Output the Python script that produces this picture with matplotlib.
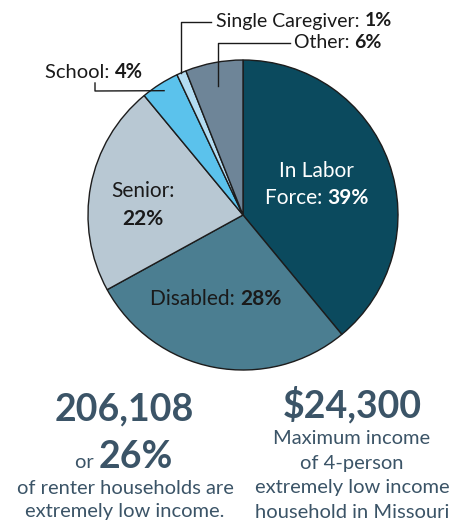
import numpy as np
import matplotlib
matplotlib.use("Agg")
import matplotlib.pyplot as plt
from matplotlib.offsetbox import TextArea, HPacker, AnnotationBbox

plt.rcParams['font.family'] = ['Lato', 'DejaVu Sans']

# shares of extremely low income renter households
groups = ["In Labor Force", "Disabled", "Senior", "School", "Single Caregiver", "Other"]
shares = [39, 28, 22, 4, 1, 6]
colors = ["#0b4a5e", "#4b7e91", "#b8c8d3", "#5bc2ec", "#b3dcf2", "#6e8598"]

renters = "206,108"
renter_pct = "26%"
max_income = "$24,300"

W, H = 468, 524
fig = plt.figure(figsize=(W / 100, H / 100), dpi=100)
ax = fig.add_axes([0, 0, 1, 1])

cx, cy, R = 243, H - 215, 155
wedges, _ = ax.pie(shares, colors=colors, startangle=90, counterclock=False,
                   center=(cx, cy), radius=R,
                   wedgeprops=dict(edgecolor="#1c1c1c", linewidth=1))
ax.set_xlim(0, W)
ax.set_ylim(0, H)
ax.set_aspect('equal')
ax.axis('off')

dark = "#1a1a1a"
slate = "#3b5467"


def mixed(x, y, parts, size, color, align=(0.5, 0.5)):
    # row of text pieces, each with its own weight / size
    boxes = []
    for p in parts:
        t, w = p[0], p[1]
        s = p[2] if len(p) > 2 else size
        boxes.append(TextArea(t, textprops=dict(size=s, color=color, weight=w)))
    row = HPacker(children=boxes, align="baseline", pad=0, sep=0)
    ab = AnnotationBbox(row, (x, H - y), box_alignment=align,
                        frameon=False, pad=0, xycoords='data')
    ax.add_artist(ab)


def label(name, v):
    return [(name + ": ", "normal"), (f"{v}%", "bold")]


# labels inside the big slices
mixed(316, 171, [("In Labor", "normal")], 15, "white")
mixed(317, 198, [("Force: ", "normal"), (f"{shares[0]}%", "bold")], 15, "white")
mixed(143, 191, [(groups[2] + ":", "normal")], 15, dark)
mixed(143, 219, [(f"{shares[2]}%", "bold")], 15, dark)
mixed(216, 299, label(groups[1], shares[1]), 15, dark)


def wedge_point(w, frac):
    a = np.deg2rad((w.theta1 + w.theta2) / 2)
    return cx + R * frac * np.cos(a), cy + R * frac * np.sin(a)


# small slices get leader lines
lw = dict(color=dark, linewidth=1)
sx, sy = wedge_point(wedges[3], 0.95)
ax.plot([95, 95, sx], [H - 83, H - 91, sy], **lw)
mixed(94, 72, label(groups[3], shares[3]), 14.5, dark)

gx, gy = wedge_point(wedges[4], 1.0)
ax.plot([gx, gx, 211], [gy, H - 22, H - 22], **lw)
mixed(216, 21, label(groups[4], shares[4]), 14, dark, align=(0, 0.5))

ox, oy = wedge_point(wedges[5], 0.85)
ax.plot([ox, ox, 290], [oy, H - 43, H - 43], **lw)
mixed(294, 43, label(groups[5], shares[5]), 14, dark, align=(0, 0.5))

# summary figures under the pie
ax.text(124, H - 409, renters, ha='center', va='center', size=27,
        weight='bold', color=slate)
mixed(124, 457, [("or ", "normal", 14.5), (renter_pct, "bold", 27)], 27, slate)
for i, s in enumerate(["of renter households are", "extremely low income."]):
    ax.text(125, H - 488 - 24 * i, s, ha='center', va='center', size=14.5, color=slate)

ax.text(352, H - 405, max_income, ha='center', va='center', size=27,
        weight='bold', color=slate)
for i, s in enumerate(["Maximum income", "of 4-person", "extremely low income",
                       "household in Missouri"]):
    ax.text(352, H - 438 - 25 * i, s, ha='center', va='center', size=14.5, color=slate)

fig.savefig("out.png", dpi=100, facecolor="white")
